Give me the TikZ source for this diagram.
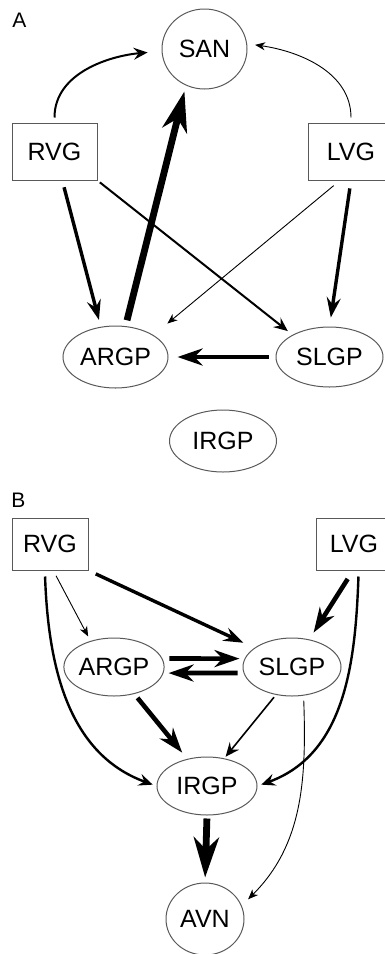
\documentclass[tikz,border=0pt]{standalone}
\usepackage{fontspec}
\setmainfont{Liberation Sans}
\usetikzlibrary{arrows.meta, shapes.geometric, positioning, calc}

\begin{document}
\begin{tikzpicture}[x=0.5pt, y=0.5pt,
    gang/.style={draw=black!65, line width=0.5pt, ellipse, inner sep=0pt, font=\fontsize{12.5}{14}\selectfont},
    vg/.style={draw=black!65, line width=0.5pt, rectangle, inner sep=0pt, font=\fontsize{12.5}{14}\selectfont},
    panel/.style={font=\fontsize{10.5}{12}\selectfont},
    wa/.style={line width=0.45pt, -{Stealth[length=5pt, width=4pt, inset=1.5pt]}},
    wb/.style={line width=1pt, -{Stealth[length=7pt, width=6pt, inset=2.5pt]}},
    wc/.style={line width=1.7pt, -{Stealth[length=10pt, width=7pt, inset=3.5pt]}},
    wd/.style={line width=2.3pt, -{Stealth[length=12.5pt, width=8.5pt, inset=4pt]}},
    we/.style={line width=3.4pt, -{Stealth[length=20pt, width=12.5pt, inset=6pt]}}]
    \useasboundingbox (0,0) rectangle (385,-954);

    % Panel A
    \node[panel] (labA) at (19.5,-20) {A};
    \node[gang, minimum width=42.5pt, minimum height=40pt] (SANa) at (204.5,-49) {SAN};
    \node[vg, minimum width=42.5pt, minimum height=28.5pt] (RVGa) at (54.5,-151.5) {RVG};
    \node[vg, minimum width=42.5pt, minimum height=28.5pt] (LVGa) at (351,-151.5) {LVG};
    \node[gang, minimum width=52.5pt, minimum height=31pt] (ARGPa) at (115.5,-357) {ARGP};
    \node[gang, minimum width=53.5pt, minimum height=30pt] (SLGPa) at (329.5,-357) {SLGP};
    \node[gang, minimum width=53.5pt, minimum height=31pt] (IRGPa) at (223,-441) {IRGP};

    \draw[wb, shorten <=2.5pt, shorten >=7pt] (RVGa.north) to[out=90, in=185] (SANa.183);
    \draw[wa, shorten <=2.5pt, shorten >=4pt] (LVGa.north) to[out=90, in=-8] (SANa.7);
    \draw[we, shorten <=3pt, shorten >=3pt] (ARGPa.72) -- (SANa.243);
    \draw[wc, shorten <=3.5pt, shorten >=3.5pt] (RVGa.-75) -- (ARGPa.116);
    \draw[wb, shorten <=1.5pt, shorten >=3pt] (RVGa.south east) -- (SLGPa.149);
    \draw[wa, shorten <=4pt, shorten >=9pt] (LVGa.249) -- (ARGPa.30);
    \draw[wc, shorten <=4pt, shorten >=4.5pt] (LVGa.south) -- (SLGPa.north);
    \draw[wd, shorten <=3.5pt, shorten >=4.5pt] (SLGPa.west) -- (ARGPa.east);

    % Panel B
    \node[panel] (labB) at (18.5,-500) {B};
    \node[vg, minimum width=38pt, minimum height=26pt] (RVGb) at (50,-544) {RVG};
    \node[vg, minimum width=38pt, minimum height=26pt] (LVGb) at (354,-544) {LVG};
    \node[gang, minimum width=49pt, minimum height=29pt] (ARGPb) at (114,-667) {ARGP};
    \node[gang, minimum width=49pt, minimum height=29pt] (SLGPb) at (292,-667) {SLGP};
    \node[gang, minimum width=50pt, minimum height=29pt] (IRGPb) at (207,-786) {IRGP};
    \node[gang, minimum width=39pt, minimum height=36pt] (AVNb) at (205,-919) {AVN};

    \draw[wc, shorten <=4pt, shorten >=6pt] (RVGb.south east) -- (SLGPb.153);
    \draw[wa, shorten <=3pt, shorten >=2.5pt] (RVGb.-83) -- (ARGPb.132);
    \draw[wb, line width=1.2pt, shorten <=3pt, shorten >=2pt] (RVGb.-101) to[out=-88, in=160] (IRGPb.west);
    \draw[wd, shorten <=5pt, shorten >=4pt] (LVGb.-92) -- (SLGPb.58);
    \draw[wb, line width=1.2pt, shorten <=3pt, shorten >=2pt] (LVGb.-80) to[out=-92, in=20] (IRGPb.east);
    \draw[wd, shorten <=3.5pt, shorten >=2.5pt] (ARGPb.10) -- (SLGPb.170);
    \draw[wd, shorten <=3pt, shorten >=2.5pt] (SLGPb.-173) -- (ARGPb.-7);
    \draw[wd, shorten <=2.5pt, shorten >=4pt] (ARGPb.-53) -- (IRGPb.126);
    \draw[wb, line width=0.8pt, shorten <=1.5pt, shorten >=1pt] (SLGPb.240) -- (IRGPb.58);
    \draw[wa, shorten <=2.5pt, shorten >=4.5pt] (SLGPb.-68) to[out=-88, in=45] (AVNb.20);
    \draw[we, shorten <=1.5pt, shorten >=2.5pt] (IRGPb.south) -- (AVNb.north);
\end{tikzpicture}
\end{document}
